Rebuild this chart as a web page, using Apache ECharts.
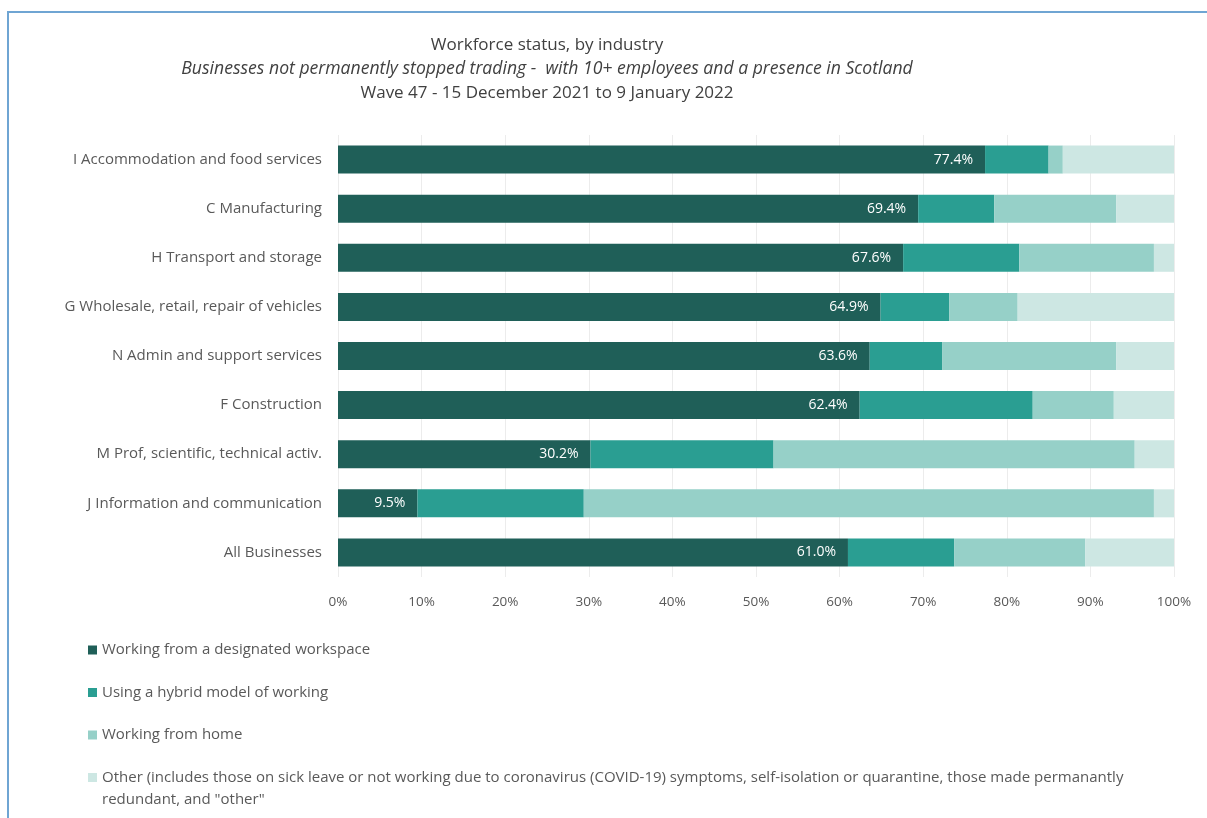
<!DOCTYPE html>
<html>
<head>
<meta charset="utf-8">
<title>Workforce status, by industry</title>
<script src="https://cdn.jsdelivr.net/npm/echarts@6/dist/echarts.min.js"></script>
<style>
  html, body { margin: 0; padding: 0; background: #ffffff; }
  #chart { width: 1207px; height: 818px; }
</style>
</head>
<body>
<div id="chart"></div>
<script>
// Industries, top to bottom
const industries = [
  'I Accommodation and food services',
  'C Manufacturing',
  'H Transport and storage',
  'G Wholesale, retail, repair of vehicles',
  'N Admin and support services',
  'F Construction',
  'M Prof, scientific, technical activ.',
  'J Information and communication',
  'All Businesses'
];

// Share of workforce (%) per status, same order as industries
const designatedWorkspace = [77.4, 69.4, 67.6, 64.9, 63.6, 62.4, 30.2, 9.5, 61.0];
const hybridModel         = [7.6, 9.1, 13.9, 8.2, 8.7, 20.7, 21.9, 19.9, 12.7];
const workingFromHome     = [1.7, 14.6, 16.1, 8.2, 20.8, 9.7, 43.2, 68.2, 15.7];
const otherStatus         = [13.3, 6.9, 2.4, 18.7, 6.9, 7.2, 4.7, 2.4, 10.6];

const seriesNames = [
  'Working from a designated workspace',
  'Using a hybrid model of working',
  'Working from home',
  'Other (includes those on sick leave or not working due to coronavirus (COVID-19) symptoms, self-isolation or quarantine, those made permanantly redundant, and "other"'
];
// The long legend entry wraps after this word; the icon sits on its first line
const wrapAfter = 'permanantly';

const xTicks = [0, 10, 20, 30, 40, 50, 60, 70, 80, 90, 100];

const palette = ['#1f5f58', '#2a9e92', '#96d0c8', '#cde7e3'];
const FONT = 'Open Sans';

const chart = echarts.init(document.getElementById('chart'), null, { renderer: 'canvas' });

function stackSeries(name, values, color, withLabel) {
  return {
    name: name,
    type: 'bar',
    stack: 'total',
    barWidth: 28,
    itemStyle: { color: color },
    emphasis: { disabled: true },
    label: withLabel ? {
      show: true,
      position: 'insideRight',
      distance: 12,
      color: '#ffffff',
      fontFamily: FONT,
      fontSize: 14,
      formatter: p => p.value.toFixed(1) + '%'
    } : { show: false },
    data: values
  };
}

const legendText = { fontFamily: FONT, fontSize: 15, color: '#595959', lineHeight: 22 };
const legendBase = {
  orient: 'vertical',
  left: 88,
  padding: 0,
  itemWidth: 9,
  itemHeight: 9,
  itemGap: 20.5,
  icon: 'rect',
  selectedMode: false,
  textStyle: legendText
};

const otherName = seriesNames[3];
const cut = otherName.indexOf(wrapAfter) + wrapAfter.length;
const otherFirstLine = otherName.slice(0, cut);
const otherSecondLine = otherName.slice(cut + 1);

chart.setOption({
  animation: false,
  textStyle: { fontFamily: FONT },
  title: {
    left: 542,
    top: 28,
    textAlign: 'center',
    text: '{a|Workforce status, by industry}\n{b|Businesses not permanently stopped trading -  with 10+ employees and a presence in Scotland}\n{a|Wave 47 - 15 December 2021 to 9 January 2022}',
    textStyle: {
      rich: {
        a: { fontFamily: FONT, fontSize: 17, fontWeight: 'normal', color: '#404040', lineHeight: 24, align: 'center' },
        b: { fontFamily: FONT, fontSize: 17.6, fontWeight: 'normal', fontStyle: 'italic', color: '#404040', lineHeight: 24, align: 'center' }
      }
    }
  },
  graphic: [
    {
      type: 'polyline',
      shape: { points: [[8, 818], [8, 12], [1207, 12]] },
      style: { stroke: '#6fa5d3', lineWidth: 2, fill: null },
      silent: true
    },
    {
      type: 'text',
      left: 102,
      top: 788.5,
      silent: true,
      style: {
        text: otherSecondLine,
        fill: '#595959',
        font: '15px "Open Sans"',
        lineHeight: 22
      }
    }
  ],
  legend: [
    Object.assign({}, legendBase, { top: 639, data: seriesNames.slice(0, 3) }),
    Object.assign({}, legendBase, {
      top: 766.5,
      data: seriesNames.slice(3),
      formatter: () => otherFirstLine
    })
  ],
  grid: { left: 338, right: 33, top: 135, height: 442, containLabel: false },
  xAxis: {
    type: 'value',
    min: 0,
    max: 100,
    interval: 10,
    axisLine: { show: false },
    axisTick: { show: false },
    splitLine: { show: true, lineStyle: { color: '#ececec', width: 1 } },
    axisLabel: {
      color: '#595959',
      fontFamily: FONT,
      fontSize: 13.5,
      margin: 18,
      formatter: v => (xTicks.includes(v) ? v + '%' : '')
    }
  },
  yAxis: {
    type: 'category',
    inverse: true,
    data: industries,
    axisLine: { show: false },
    axisTick: { show: false },
    axisLabel: { color: '#595959', fontFamily: FONT, fontSize: 15, margin: 16 }
  },
  series: [
    stackSeries(seriesNames[0], designatedWorkspace, palette[0], true),
    stackSeries(seriesNames[1], hybridModel, palette[1], false),
    stackSeries(seriesNames[2], workingFromHome, palette[2], false),
    stackSeries(seriesNames[3], otherStatus, palette[3], false)
  ]
});
</script>
</body>
</html>
